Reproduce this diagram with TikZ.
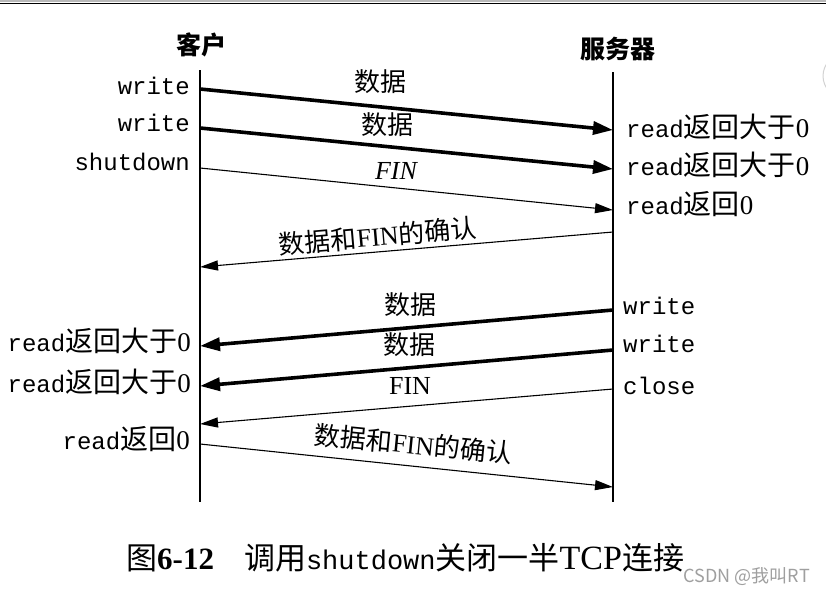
\documentclass[tikz,border=0pt]{standalone}
\usepackage{fontspec}
\setmainfont{Liberation Serif}
\setmonofont{Liberation Mono}
\newfontfamily\cjk{Noto Sans CJK SC}
\usetikzlibrary{arrows.meta}
\newcommand{\zh}[1]{{\fontsize{28}{30}\selectfont\cjk #1}}
\newcommand{\zhcap}[1]{{\fontsize{31}{33}\selectfont\cjk #1}}
\newcommand{\zero}{{\fontsize{27}{30}\selectfont 0}}
\begin{document}
\begin{tikzpicture}[x=1pt,y=-1pt,
  lbl/.style={inner sep=0pt, font=\fontsize{24}{28}\selectfont, text height=17pt, text depth=5pt},
  cjklbl/.style={lbl, font=\fontsize{26}{28}\selectfont\cjk},
  thickarr/.style={line width=3.6pt, -{Triangle[length=20pt,width=13pt]}},
  thinarr/.style={line width=1.1pt, -{Triangle[length=18pt,width=10pt]}},
  life/.style={line width=1.4pt}]
\clip (0,0) rectangle (826,595);
\useasboundingbox (0,0) rectangle (826,595);
\fill[white] (0,0) rectangle (826,595);
% window frame remnants
\fill[gray!55] (0,0) rectangle (826,2);
\draw[line width=1.2pt] (0,3.4) -- (826,3.4);
\draw[gray!35, line width=1pt] (845,76) circle (22);

% headers
\node[cjklbl, font=\fontsize{25}{28}\selectfont\cjk\bfseries] (hc) at (201,48) {客户};
\node[cjklbl, font=\fontsize{25}{28}\selectfont\cjk\bfseries] (hs) at (618,52) {服务器};

% lifelines
\coordinate (ctop) at (200,70);
\coordinate (cbot) at (200,502);
\coordinate (stop) at (613,72);
\coordinate (sbot) at (613,502);
\draw[life] (ctop) -- (cbot);
\draw[life] (stop) -- (sbot);

% endpoints on lifelines
\coordinate (c1) at (200,89);  \coordinate (s1) at (613,130);
\coordinate (c2) at (200,128); \coordinate (s2) at (613,169);
\coordinate (c3) at (200,168); \coordinate (s3) at (613,210);
\coordinate (s4) at (613,232); \coordinate (c4) at (200,267);
\coordinate (s5) at (613,310); \coordinate (c5) at (200,346);
\coordinate (s6) at (613,350); \coordinate (c6) at (200,386);
\coordinate (s7) at (613,389); \coordinate (c7) at (200,424);
\coordinate (c8) at (200,444); \coordinate (s8) at (613,487);

\draw[thickarr] (c1) -- (s1);
\draw[thickarr] (c2) -- (s2);
\draw[thinarr] (c3) -- (s3);
\draw[thinarr] (s4) -- (c4);
\draw[thickarr] (s5) -- (c5);
\draw[thickarr] (s6) -- (c6);
\draw[thinarr] (s7) -- (c7);
\draw[thinarr] (c8) -- (s8);

% client labels
\node[lbl, anchor=east] (lc1) at (190,88) {\texttt{write}};
\node[lbl, anchor=east] (lc2) at (190,125) {\texttt{write}};
\node[lbl, anchor=east] (lc3) at (190,164) {\texttt{shutdown}};
\node[lbl, anchor=east] (lc5) at (191,345) {\texttt{read}\zh{返回大于}\zero};
\node[lbl, anchor=east] (lc6) at (191,386) {\texttt{read}\zh{返回大于}\zero};
\node[lbl, anchor=east] (lc8) at (190,443) {\texttt{read}\zh{返回}\zero};

% server labels
\node[lbl, anchor=west] (ls1) at (626,131) {\texttt{read}\zh{返回大于}\zero};
\node[lbl, anchor=west] (ls2) at (626,169) {\texttt{read}\zh{返回大于}\zero};
\node[lbl, anchor=west] (ls3) at (626,208) {\texttt{read}\zh{返回}\zero};
\node[lbl, anchor=west] (ls5) at (623,308) {\texttt{write}};
\node[lbl, anchor=west] (ls6) at (623,346) {\texttt{write}};
\node[lbl, anchor=west] (ls7) at (623,388) {\texttt{close}};

% message labels
\node[cjklbl] (m1) at (380,85) {数据};
\node[cjklbl] (m2) at (387,128) {数据};
\node[lbl, font=\fontsize{26}{28}\selectfont\itshape] (m3) at (396,173) {FIN};
\node[lbl, font=\fontsize{26}{28}\selectfont\cjk, rotate=5] (m4) at (378,240) {数据和{\rmfamily FIN}的确认};
\node[cjklbl] (m5) at (410,308) {数据};
\node[cjklbl] (m6) at (409,348) {数据};
\node[lbl, font=\fontsize{26}{28}\selectfont] (m7) at (410,388) {FIN};
\node[lbl, font=\fontsize{26}{28}\selectfont\cjk, rotate=-5.5] (m8) at (413,448) {数据和{\rmfamily FIN}的确认};

% caption
\node[lbl, anchor=west, font=\fontsize{31}{33}\selectfont] (cap) at (126,563)
  {\zhcap{图}\textbf{6-12}\hspace{30pt}\zhcap{调用}{\fontsize{27}{29}\selectfont\ttfamily shutdown}\zhcap{关闭一半}{\fontsize{34}{36}\selectfont TCP}\zhcap{连接}};
\node[inner sep=0pt, anchor=east, text=gray!75, font=\fontsize{18}{20}\selectfont\cjk] (wm) at (810,577) {CSDN @我叫RT};
\end{tikzpicture}
\end{document}
